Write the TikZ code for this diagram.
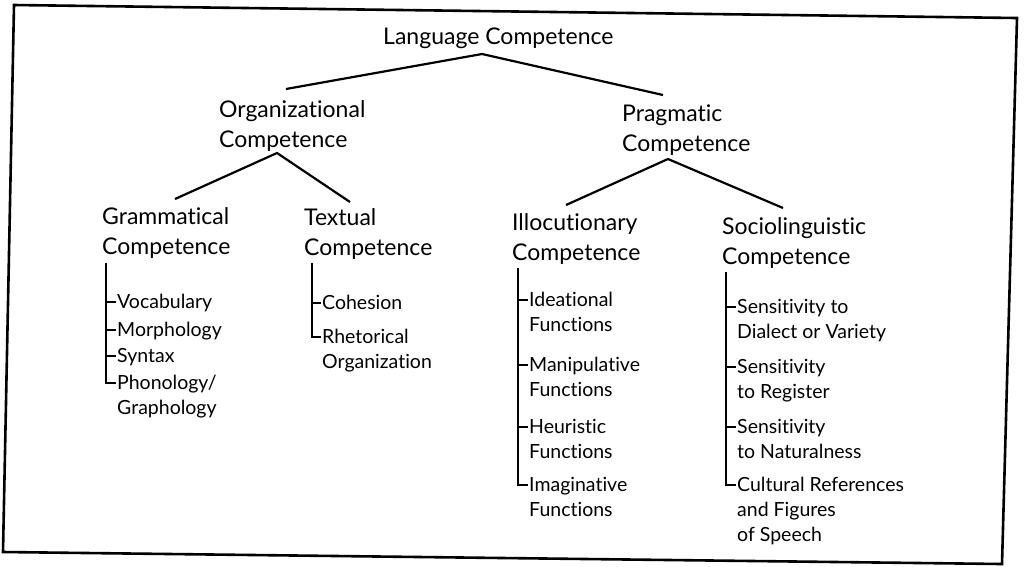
\documentclass[tikz,border=0pt]{standalone}
\usepackage{fontspec}
\setmainfont{Lato}[Ligatures={NoCommon,NoRequired,NoContextual}]
\begin{document}
\begin{tikzpicture}[x=1pt,y=-1pt,
  head/.style={anchor=north west, inner sep=0pt, align=left, font=\fontsize{23}{30}\selectfont},
  item/.style={anchor=north west, inner sep=0pt, align=left, font=\fontsize{19.5}{25}\selectfont},
  link/.style={line width=2.2pt},
  stem/.style={line width=1.8pt}]
\useasboundingbox (0,0) rectangle (1024,566);
\draw[line width=2.6pt] (14,5) -- (1017,18) -- (1002,564) -- (3,552) -- cycle;
\node[head] (lang) at (383,28) {Language Competence};
\node[head] (org) at (219,100) {Organizational\\Competence};
\node[head] (prag) at (622,105) {Pragmatic\\Competence};
\node[head] (gram) at (102,207) {Grammatical\\Competence};
\node[head] (textual) at (304,208) {Textual\\Competence};
\node[head] (illoc) at (512,213) {Illocutionary\\Competence};
\node[head] (socio) at (722,217) {Sociolinguistic\\Competence};
\draw[link] ([xshift=67pt,yshift=11pt]org.north west) -- ([xshift=99pt,yshift=-26pt]lang.north west) -- ([xshift=41pt,yshift=10pt]prag.north west);
\draw[link] ([xshift=73pt,yshift=8pt]gram.north west) -- ([xshift=58pt,yshift=-53pt]org.north west) -- ([xshift=46pt,yshift=6pt]textual.north west);
\draw[link] ([xshift=54pt,yshift=8pt]illoc.north west) -- ([xshift=46pt,yshift=-54pt]prag.north west) -- ([xshift=61pt,yshift=9pt]socio.north west);
\coordinate (gram-stem) at (106,263);
\node[item] (vocab) at (117,294) {Vocabulary};
\node[item] (morph) at (117,322) {Morphology};
\node[item] (syntax) at (117,348) {Syntax};
\node[item] (phono) at (117,375) {Phonology/\\Graphology};
\foreach \n in {vocab,morph,syntax,phono}
  \draw[stem] (gram-stem) |- ([xshift=-1pt,yshift=-8pt]\n.north west);
\coordinate (text-stem) at (312,263);
\node[item] (cohes) at (322,295) {Cohesion};
\node[item] (rhet) at (322,329) {Rhetorical\\Organization};
\foreach \n in {cohes,rhet}
  \draw[stem] (text-stem) |- ([xshift=-1pt,yshift=-8pt]\n.north west);
\coordinate (illoc-stem) at (518,268);
\node[item] (idea) at (529,292) {Ideational\\Functions};
\node[item] (manip) at (529,357) {Manipulative\\Functions};
\node[item] (heur) at (529,419) {Heuristic\\Functions};
\node[item] (imag) at (529,477) {Imaginative\\Functions};
\foreach \n in {idea,manip,heur,imag}
  \draw[stem] (illoc-stem) |- ([xshift=-1pt,yshift=-8pt]\n.north west);
\coordinate (socio-stem) at (726,272);
\node[item] (dial) at (737,299) {Sensitivity to\\Dialect or Variety};
\node[item] (regis) at (737,359) {Sensitivity\\to Register};
\node[item] (natur) at (737,419) {Sensitivity\\to Naturalness};
\node[item] (cult) at (737,477) {Cultural References\\and Figures\\of Speech};
\foreach \n in {dial,regis,natur,cult}
  \draw[stem] (socio-stem) |- ([xshift=-1pt,yshift=-8pt]\n.north west);
\end{tikzpicture}
\end{document}
